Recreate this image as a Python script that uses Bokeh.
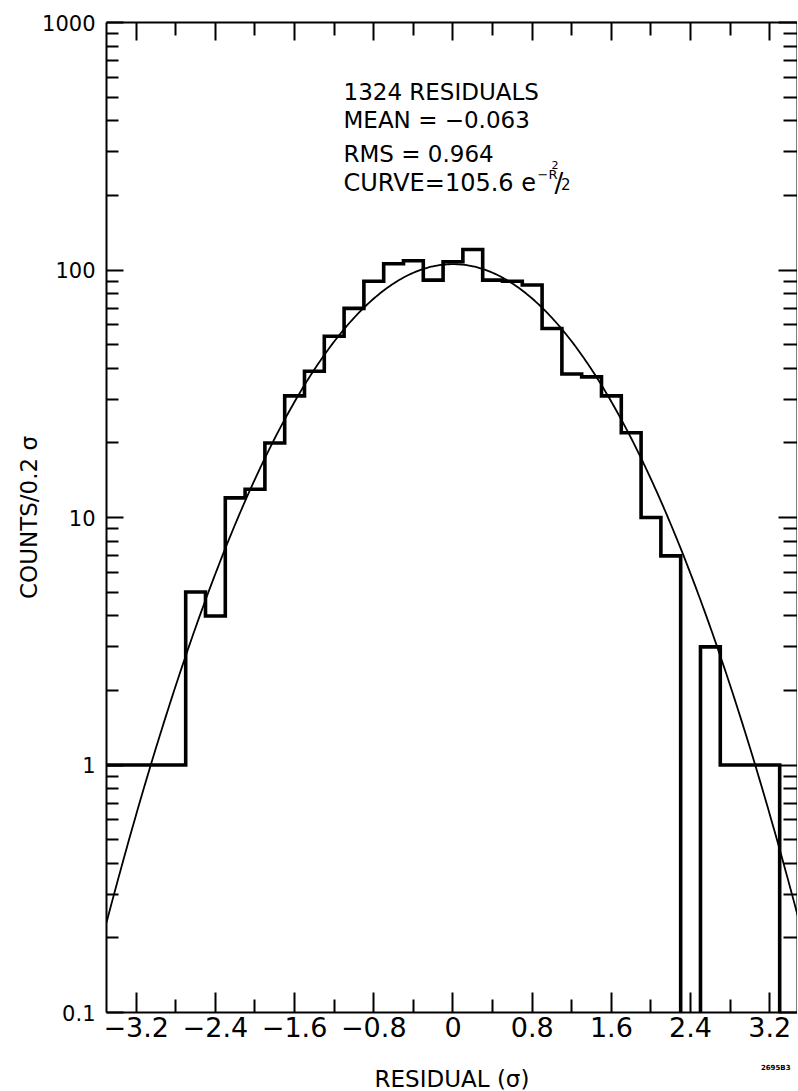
import numpy as np
from bokeh.plotting import figure
from bokeh.models import (Range1d, LogAxis, LinearAxis, FixedTicker, Label,
                          CustomJSTickFormatter, CustomLabelingPolicy)
from bokeh.embed import file_html
from bokeh.resources import INLINE

# ---------------- data ----------------
bin_edges = [-3.5, -3.3, -3.1, -2.9, -2.7, -2.5, -2.3, -2.1, -1.9, -1.7, -1.5,
             -1.3, -1.1, -0.9, -0.7, -0.5, -0.3, -0.1, 0.1, 0.3, 0.5, 0.7, 0.9,
             1.1, 1.3, 1.5, 1.7, 1.9, 2.1, 2.3, 2.5, 2.7, 2.9, 3.1, 3.3, 3.5]
counts = [1, 1, 1, 1, 5, 4, 12, 13, 20, 31, 39, 54, 70, 90, 106, 109, 91, 108,
          121, 91, 90, 87, 58, 38, 37, 31, 22, 10, 7, 0, 3, 1, 1, 1, 0]
curve_amplitude = 105.6          # CURVE = 105.6 e^(-R^2/2)

x_major_ticks = [-3.2, -2.4, -1.6, -0.8, 0.0, 0.8, 1.6, 2.4, 3.2]
x_tick_labels = ["\u22123.2", "\u22122.4", "\u22121.6", "\u22120.8", "0", "0.8", "1.6", "2.4", "3.2"]
x_minor_ticks = [-2.8, -2.0, -1.2, -0.4, 0.4, 1.2, 2.0, 2.8]
y_major_ticks = [0.1, 1, 10, 100, 1000]
y_tick_labels = ["0.1", "1", "10", "100", "1000"]
y_minor_ticks = [m * d for d in (0.1, 1, 10, 100) for m in (2, 3, 4, 5, 6, 7, 8, 9)]

info_lines = ["1324 RESIDUALS", "MEAN = \u22120.063", "RMS = 0.964", "CURVE=105.6 e"]
figure_id = "2695B3"

FONT = "DejaVu Sans"

# ---------------- figure ----------------
p = figure(frame_width=691, frame_height=990,
           x_range=Range1d(-3.5, 3.48), y_range=Range1d(0.1, 1000),
           y_axis_type="log", output_backend="svg", toolbar_location=None,
           min_border_left=106, min_border_right=0, min_border_top=22,
           min_border_bottom=79)
p.outline_line_color = None
p.xgrid.visible = False
p.ygrid.visible = False
p.background_fill_color = "white"
p.border_fill_color = "white"


def fmt(vals, labels):
    return CustomJSTickFormatter(args=dict(vals=vals, labels=labels), code="""
        for (let i = 0; i < vals.length; i++) {
            if (Math.abs(vals[i] - tick) < 1e-6 * Math.max(1, Math.abs(vals[i]))) return labels[i];
        }
        return "";
    """)


def style(ax, maj_in, min_in):
    ax.axis_line_width = 2
    ax.axis_line_color = "black"
    ax.major_tick_in = maj_in
    ax.major_tick_out = 0
    ax.minor_tick_in = min_in
    ax.minor_tick_out = 0
    ax.major_tick_line_width = 2
    ax.minor_tick_line_width = 2
    ax.major_tick_line_color = "black"
    ax.minor_tick_line_color = "black"


def no_labels(ax):
    ax.formatter = CustomJSTickFormatter(code='return "";')
    ax.major_label_policy = CustomLabelingPolicy(code="""
        for (const i of Array.from(indices)) { indices.unset(i) }
        return indices
    """)
    ax.major_label_standoff = 0
    ax.major_label_text_font_size = "10px"


xt = FixedTicker(ticks=x_major_ticks, minor_ticks=x_minor_ticks)
yt = FixedTicker(ticks=y_major_ticks, minor_ticks=y_minor_ticks)

xa = p.xaxis[0]
xa.ticker = xt
xa.formatter = fmt(x_major_ticks, x_tick_labels)
style(xa, 20, 13)
xa.major_label_text_font = FONT
xa.major_label_text_font_size = "27px"
xa.major_label_text_color = "black"
xa.major_label_standoff = 4
xa.axis_label = None

# second, tick-less bottom axis: carries the figure id and the axis title
id_axis = LinearAxis(ticker=FixedTicker(ticks=[3.26], minor_ticks=[]),
                     formatter=CustomJSTickFormatter(args=dict(t=figure_id), code="return t;"))
id_axis.axis_line_color = None
id_axis.major_tick_line_color = None
id_axis.minor_tick_line_color = None
id_axis.major_tick_in = 0
id_axis.major_tick_out = 0
id_axis.minor_tick_in = 0
id_axis.minor_tick_out = 0
id_axis.major_label_text_font = FONT
id_axis.major_label_text_font_size = "7px"
id_axis.major_label_text_font_style = "bold"
id_axis.major_label_text_color = "black"
id_axis.major_label_standoff = 24
id_axis.axis_label = "RESIDUAL (\u03c3)"
id_axis.axis_label_text_font = FONT
id_axis.axis_label_text_font_size = "23px"
id_axis.axis_label_text_font_style = "normal"
id_axis.axis_label_text_color = "black"
id_axis.axis_label_standoff = -9
p.add_layout(id_axis, "below")

ya = p.yaxis[0]
ya.ticker = yt
ya.formatter = fmt(y_major_ticks, y_tick_labels)
style(ya, 17, 12)
ya.major_label_text_font = FONT
ya.major_label_text_font_size = "21px"
ya.major_label_text_color = "black"
ya.major_label_standoff = 11
ya.axis_label = "COUNTS/0.2 \u03c3"
ya.axis_label_text_font = FONT
ya.axis_label_text_font_size = "23px"
ya.axis_label_text_font_style = "normal"
ya.axis_label_text_color = "black"
ya.axis_label_standoff = -3

top = LinearAxis(ticker=xt)
style(top, 18, 13)
no_labels(top)
p.add_layout(top, "above")

right = LogAxis(ticker=yt)
style(right, 19, 14)
no_labels(right)
p.add_layout(right, "right")

# ---------------- histogram ----------------
floor = 0.01  # zero counts drawn below the log axis
step_y = [c if c > 0 else floor for c in counts] + [counts[-1] if counts[-1] > 0 else floor]
p.step(x=bin_edges, y=step_y, mode="after", line_color="black", line_width=3.6,
       line_join="miter")

# ---------------- fitted curve ----------------
cx = np.linspace(bin_edges[0], bin_edges[-1], 351)
cy = curve_amplitude * np.exp(-cx ** 2 / 2.0)
p.line(cx, cy, line_color="black", line_width=1.8)

# ---------------- text ----------------
for txt, yy, fs in zip(info_lines, [526, 402, 293, 225.7], ["23px", "23px", "23px", "24px"]):
    p.add_layout(Label(x=-1.106, y=yy, text=txt, text_font=FONT,
                       text_font_size=fs, text_baseline="alphabetic",
                       text_align="left", text_color="black"))

for txt, xx, yy, fs in [("\u2212R", 0.854, 243, "13px"),
                        ("2", 0.995, 265, "11px"),
                        ("/", 1.025, 225.7, "26px"),
                        ("2", 1.090, 223.6, "15px")]:
    p.add_layout(Label(x=xx, y=yy, text=txt, text_font=FONT, text_font_size=fs,
                       text_baseline="alphabetic", text_align="left",
                       text_color="black"))

open("out.html", "w").write(file_html(p, INLINE))
